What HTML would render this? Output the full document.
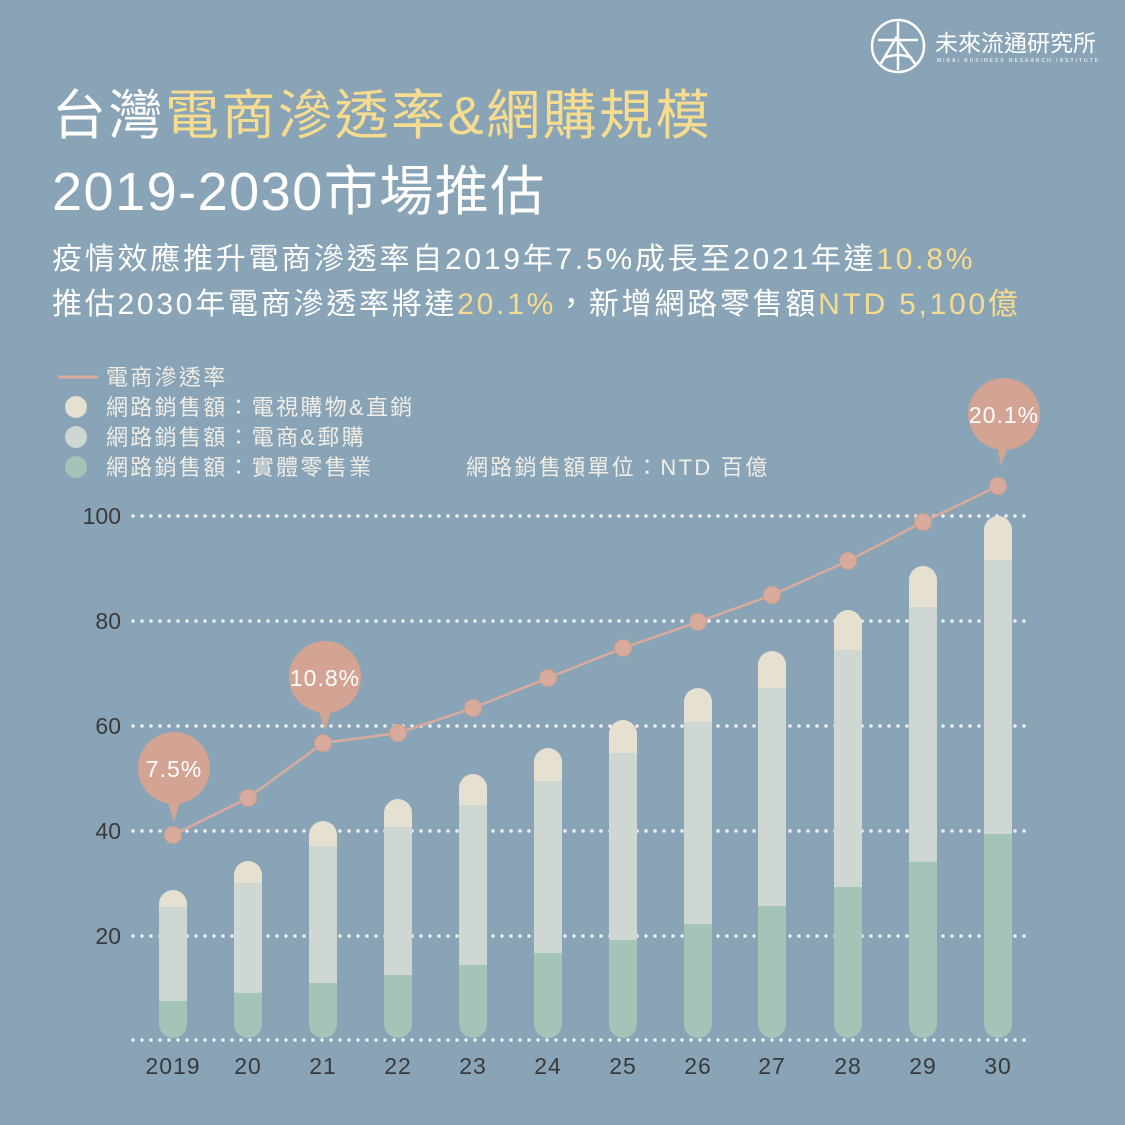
<!DOCTYPE html><html><head><meta charset="utf-8"><style>
body{margin:0;width:1125px;height:1125px;background:#89a4b7;overflow:hidden;font-family:"Liberation Sans","Noto Sans CJK TC",sans-serif;}
.t{position:absolute;white-space:nowrap;color:#fff}
.y{color:#f6dc8e}
</style></head><body>
<div class="t" style="left:52px;top:84px;font-size:54px;line-height:64px;letter-spacing:2.5px">台灣<span class="y">電商滲透率&amp;網購規模</span></div>
<div class="t" style="left:52px;top:160px;font-size:54px;line-height:64px;letter-spacing:1.5px">2019-2030市場推估</div>
<div class="t" style="left:52px;top:240px;font-size:30px;line-height:40px;letter-spacing:2.75px">疫情效應推升電商滲透率自2019年7.5%成長至2021年達<span class="y">10.8%</span></div>
<div class="t" style="left:52px;top:285px;font-size:30px;line-height:40px;letter-spacing:2.75px">推估2030年電商滲透率將達<span class="y">20.1%</span>，新增網路零售額<span class="y">NTD 5,100億</span></div>
<div class="t" style="left:935px;top:28px;font-size:23px;line-height:30px">未來流通研究所</div>
<div class="t" style="left:937px;top:58px;font-size:5px;letter-spacing:2px">MIRAI BUSINESS RESEARCH INSTITUTE</div>
<svg width="1125" height="1125" style="position:absolute;left:0;top:0">
<g stroke="#fff" stroke-width="2.5" fill="none"><circle cx="898" cy="46" r="26"/><path d="M878 40H918M898 22V70M880 65L896 38L916 65M884 58q14-6 28 0"/></g>
<g fill="#f0ede6" font-size="22" letter-spacing="2.3" font-family="Liberation Sans,Noto Sans CJK TC,sans-serif">
<line x1="58" y1="377" x2="98" y2="377" stroke="#d8ab9c" stroke-width="3"/>
<text x="106" y="385">電商滲透率</text>
<circle cx="76" cy="407" r="11" fill="#e6e0d0"/><text x="106" y="415">網路銷售額：電視購物&amp;直銷</text>
<circle cx="76" cy="437" r="11" fill="#cfd7d2"/><text x="106" y="445">網路銷售額：電商&amp;郵購</text>
<circle cx="76" cy="467" r="11" fill="#a3c4b6"/><text x="106" y="475">網路銷售額：實體零售業</text>
<text x="466" y="475">網路銷售額單位：NTD 百億</text>
</g>
<g stroke="#eef1f3" stroke-width="3.5" stroke-linecap="round" stroke-dasharray="0 9">
<line x1="133" y1="516" x2="1030" y2="516"/><line x1="133" y1="621" x2="1030" y2="621"/><line x1="133" y1="726" x2="1030" y2="726"/><line x1="133" y1="831" x2="1030" y2="831"/><line x1="133" y1="936" x2="1030" y2="936"/><line x1="133" y1="1040" x2="1030" y2="1040"/>
</g>
<g fill="#3a3a3a" font-size="23" text-anchor="end" font-family="Liberation Sans,sans-serif">
<text x="121" y="524">100</text><text x="121" y="629">80</text><text x="121" y="734">60</text><text x="121" y="839">40</text><text x="121" y="944">20</text></g>
<g fill="#3a3a3a" font-size="23" text-anchor="middle" letter-spacing="1" font-family="Liberation Sans,sans-serif">
<text x="173" y="1074">2019</text><text x="248" y="1074">20</text><text x="323" y="1074">21</text><text x="398" y="1074">22</text><text x="473" y="1074">23</text><text x="548" y="1074">24</text><text x="623" y="1074">25</text><text x="698" y="1074">26</text><text x="772" y="1074">27</text><text x="848" y="1074">28</text><text x="923" y="1074">29</text><text x="998" y="1074">30</text></g>
<g id="bars"></g>
<polyline fill="none" stroke="#d8ab9c" stroke-width="2.5" points="173,835 248,798 323,743 398,733 473,708 548,678 623,648 698,622 772,595 848,561 923,522 998,486"/>
<g fill="#d8ab9c" stroke="#c9a091" stroke-width="1"><circle cx="173" cy="835" r="8.5"/><circle cx="248" cy="798" r="8.5"/><circle cx="323" cy="743" r="8.5"/><circle cx="398" cy="733" r="8.5"/><circle cx="473" cy="708" r="8.5"/><circle cx="548" cy="678" r="8.5"/><circle cx="623" cy="648" r="8.5"/><circle cx="698" cy="622" r="8.5"/><circle cx="772" cy="595" r="8.5"/><circle cx="848" cy="561" r="8.5"/><circle cx="923" cy="522" r="8.5"/><circle cx="998" cy="486" r="8.5"/></g>
<g fill="#d3a393" font-size="23" font-family="Liberation Sans,sans-serif">
<circle cx="174" cy="768" r="36"/><path d="M167 800L174 822L181 800Z"/>
<circle cx="325" cy="677" r="36"/><path d="M318 709L325 730L332 709Z"/>
<circle cx="1004" cy="414" r="36"/><path d="M997 446L1001 466L1008 446Z"/>
<g fill="#fff" text-anchor="middle" letter-spacing="1"><text x="174" y="777">7.5%</text><text x="325" y="686">10.8%</text><text x="1004" y="423">20.1%</text></g>
</g>
</svg>
<script>
var d=[[173,890,907,1001],[248,861,883,993],[323,821,846,983],[398,799,827,975],[473,774,805,965],[548,748,781,953],[623,720,753,940],[698,688,722,924],[772,651,688,906],[848,610,650,887],[923,566,607,862],[998,516,560,834]];
var s='',B=1038,w=28;
d.forEach(function(a,i){var x=a[0]-w/2;
s+='<clipPath id="k'+i+'"><rect x="'+x+'" y="'+a[1]+'" width="'+w+'" height="'+(B-a[1])+'" rx="14"/></clipPath><g clip-path="url(#k'+i+')">'+
'<rect x="'+x+'" y="'+a[1]+'" width="'+w+'" height="'+(a[2]-a[1])+'" fill="#e6e0d0"/>'+
'<rect x="'+x+'" y="'+a[2]+'" width="'+w+'" height="'+(a[3]-a[2])+'" fill="#cfd7d2"/>'+
'<rect x="'+x+'" y="'+a[3]+'" width="'+w+'" height="'+(B-a[3])+'" fill="#a3c4b6"/></g>';});
document.getElementById('bars').innerHTML=s;
</script>
</body></html>
